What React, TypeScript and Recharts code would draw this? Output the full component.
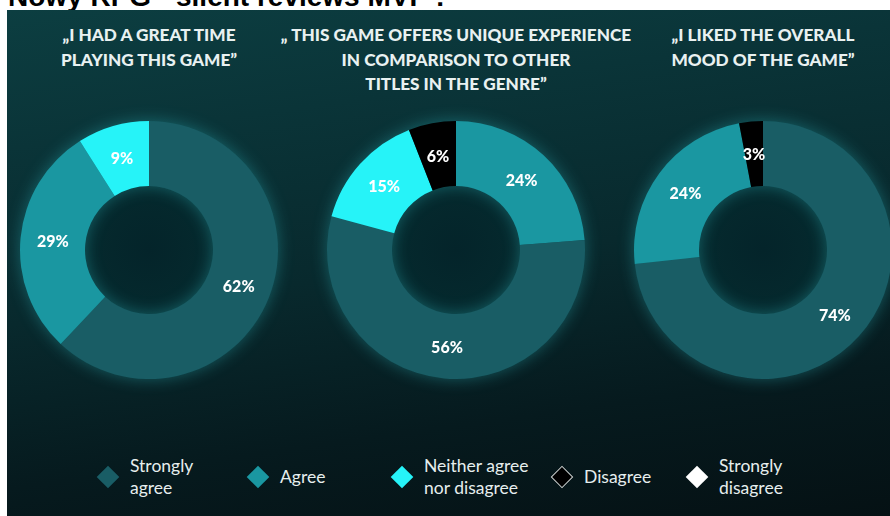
import React from 'react';
import { PieChart, Pie, Cell } from 'recharts';

const categories = ['Strongly agree', 'Agree', 'Neither agree nor disagree', 'Disagree', 'Strongly disagree'];
const categoryColors = ['#195d65', '#1a97a1', '#26f3f8', '#000000', '#ffffff'];
const legendLines = [['Strongly', 'agree'], ['Agree'], ['Neither agree', 'nor disagree'], ['Disagree'], ['Strongly', 'disagree']];

const greatTimeTitle = ['„I HAD A GREAT TIME', 'PLAYING THIS GAME”'];
const greatTimeOrder = ['Strongly agree', 'Agree', 'Neither agree nor disagree'];
const greatTimeValues = [62, 29, 9];

const uniqueTitle = ['„ THIS GAME OFFERS UNIQUE EXPERIENCE', 'IN COMPARISON TO OTHER', 'TITLES IN THE GENRE”'];
const uniqueOrder = ['Agree', 'Strongly agree', 'Neither agree nor disagree', 'Disagree'];
const uniqueValues = [24, 56, 15, 6];

const moodTitle = ['„I LIKED THE OVERALL', 'MOOD OF THE GAME”'];
const moodOrder = ['Strongly agree', 'Agree', 'Disagree'];
const moodValues = [74, 24, 3];

const FONT = 'Lato, "Noto Sans", sans-serif';
const RAD = Math.PI / 180;

const colorOf = (name: string) => categoryColors[categories.indexOf(name)];

function renderLabel(p: any) {
  const r = (p.innerRadius + p.outerRadius) / 2;
  const x = p.cx + r * Math.cos(-p.midAngle * RAD);
  const y = p.cy + r * Math.sin(-p.midAngle * RAD);
  return (
    <text x={x} y={y} fill="#ffffff" textAnchor="middle" dominantBaseline="central"
      style={{ fontFamily: FONT, fontWeight: 900, fontSize: 16 }}>
      {p.value}%
    </text>
  );
}

function Donut({ cx, order, values, title }: { cx: number; order: string[]; values: number[]; title: string[] }) {
  const data = order.map((name, i) => ({ name, value: values[i] }));
  const size = 290;
  return (
    <>
      <div style={{
        position: 'absolute', left: cx - 200, top: 23, width: 400, textAlign: 'center',
        fontFamily: FONT, fontWeight: 900, fontSize: 17.2, lineHeight: '24.5px', color: '#e9f1f1',
      }}>
        {title.map(t => <div key={t}>{t}</div>)}
      </div>
      <div style={{
        position: 'absolute', left: cx - 64, top: 250 - 64, width: 128, height: 128, borderRadius: '50%',
        background: 'radial-gradient(circle, #04242a 0%, #052a2e 80%, #073034 100%)',
      }} />
      <div style={{
        position: 'absolute', left: cx - size / 2, top: 250 - size / 2,
        filter: 'drop-shadow(0 0 8px rgba(50,200,210,0.35))',
      }}>
        <PieChart width={size} height={size}>
          <Pie data={data} dataKey="value" nameKey="name" innerRadius={64} outerRadius={129}
            startAngle={90} endAngle={-270} stroke="none" labelLine={false} label={renderLabel}
            isAnimationActive={false}>
            {data.map(d => <Cell key={d.name} fill={colorOf(d.name)} />)}
          </Pie>
        </PieChart>
      </div>
    </>
  );
}

const legendX = [108, 258, 402, 562, 697];

export default function App() {
  return (
    <div style={{ position: 'absolute', left: 0, top: 0, width: 890, height: 516, overflow: 'hidden', background: '#fff' }}>
      <div style={{
        position: 'absolute', left: 8, top: -17, fontFamily: 'Arial, "Liberation Sans", sans-serif',
        fontWeight: 700, fontSize: 28, lineHeight: '28px', color: '#000', whiteSpace: 'nowrap',
      }}>
        Nowy RPG - silent reviews MVP :
      </div>
      <div style={{
        position: 'absolute', left: 7, top: 10, width: 883, height: 506,
        background: 'linear-gradient(172deg, #0c3e41 0%, #0a3438 22%, #08292d 50%, #061a1e 76%, #051114 100%)',
      }} />
      <Donut cx={149} order={greatTimeOrder} values={greatTimeValues} title={greatTimeTitle} />
      <Donut cx={456} order={uniqueOrder} values={uniqueValues} title={uniqueTitle} />
      <Donut cx={763} order={moodOrder} values={moodValues} title={moodTitle} />
      {categories.map((c, i) => (
        <div key={c} style={{ position: 'absolute', left: legendX[i] - 12, top: 477, transform: 'translateY(-50%)', display: 'flex', alignItems: 'center' }}>
          <div style={{
            width: 16, height: 16, margin: '0 4px', transform: 'rotate(45deg)', boxSizing: 'border-box',
            background: categoryColors[i], border: c === 'Disagree' ? '1px solid #cfd6d6' : 'none',
          }} />
          <div style={{ marginLeft: 10, fontFamily: FONT, fontSize: 17.5, lineHeight: '22px', color: '#e6eeee' }}>
            {legendLines[i].map(l => <div key={l}>{l}</div>)}
          </div>
        </div>
      ))}
    </div>
  );
}
